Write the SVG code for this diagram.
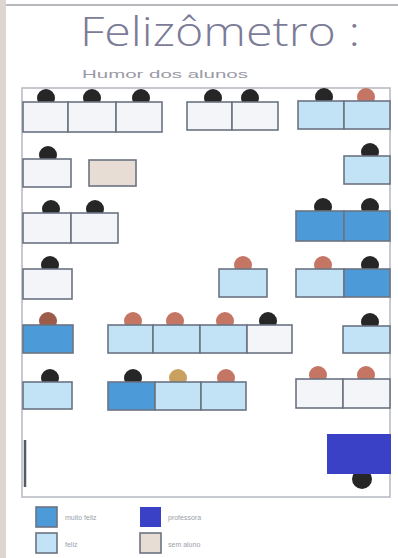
<svg xmlns="http://www.w3.org/2000/svg" width="398" height="558" viewBox="0 0 398 558">
<style>
.desk{stroke:#6b7382;stroke-width:1.6}
.w{fill:#f3f5f9}.l{fill:#c2e2f6}.m{fill:#4c9ad8}.b{fill:#e7ddd5}.t{fill:#3a41c6}
.hd{fill:#262626}.hs{fill:#c47564}.hb{fill:#9c5c4a}.hg{fill:#c9a060}
.lg{font-family:"Liberation Sans",Arial,sans-serif;font-size:7px;fill:#9aa0aa}
</style>
<rect width="398" height="558" fill="#ffffff"/>
<rect x="0" y="0" width="6" height="558" fill="#ddd5d0"/>
<rect x="6" y="4" width="392" height="2" fill="#b8b8bc"/>
<text x="80" y="46" font-family="'Open Sans','DejaVu Sans',sans-serif" font-weight="300" font-size="40" fill="#7c7c98" textLength="280" lengthAdjust="spacingAndGlyphs">Felizômetro :</text>
<text x="82" y="78" font-family="'Liberation Sans',Arial,sans-serif" font-size="11" fill="#9a9aa6" textLength="166" lengthAdjust="spacingAndGlyphs">Humor dos alunos</text>
<rect x="22" y="88" width="368" height="409" fill="none" stroke="#b4b8c0" stroke-width="1.5"/>
<line x1="25" y1="440" x2="25" y2="487" stroke="#555a62" stroke-width="2.5"/>
<g id="connectors"/>
<g id="d1"><circle class="hd" cx="46" cy="98" r="9"/><rect class="desk w" x="23" y="102" width="45" height="30"/></g>
<g id="d2"><circle class="hd" cx="92" cy="98" r="9"/><rect class="desk w" x="68" y="102" width="48" height="30"/></g>
<g id="d3"><circle class="hd" cx="141" cy="98" r="9"/><rect class="desk w" x="116" y="102" width="46" height="30"/></g>
<g id="d4"><circle class="hd" cx="213" cy="98" r="9"/><rect class="desk w" x="187" y="102" width="45" height="28"/></g>
<g id="d5"><circle class="hd" cx="250" cy="98" r="9"/><rect class="desk w" x="232" y="102" width="46" height="28"/></g>
<g id="d6"><circle class="hd" cx="324" cy="97" r="9"/><rect class="desk l" x="298" y="101" width="46" height="28"/></g>
<g id="d7"><circle class="hs" cx="366" cy="97" r="9"/><rect class="desk l" x="344" y="101" width="46" height="28"/></g>
<g id="d8"><circle class="hd" cx="48" cy="155" r="9"/><rect class="desk w" x="23" y="159" width="48" height="28"/></g>
<g id="d9"><rect class="desk b" x="89" y="160" width="47" height="26" stroke="#b8b0aa"/></g>
<g id="d10"><circle class="hd" cx="370" cy="152" r="9"/><rect class="desk l" x="344" y="156" width="46" height="28"/></g>
<g id="d11"><circle class="hd" cx="51" cy="209" r="9"/><rect class="desk w" x="23" y="213" width="48" height="30"/></g>
<g id="d12"><circle class="hd" cx="95" cy="209" r="9"/><rect class="desk w" x="71" y="213" width="47" height="30"/></g>
<g id="d13"><circle class="hd" cx="323" cy="207" r="9"/><rect class="desk m" x="296" y="211" width="48" height="30"/></g>
<g id="d14"><circle class="hd" cx="370" cy="207" r="9"/><rect class="desk m" x="344" y="211" width="46" height="30"/></g>
<g id="d15"><circle class="hd" cx="50" cy="265" r="9"/><rect class="desk w" x="23" y="269" width="49" height="30"/></g>
<g id="d16"><circle class="hs" cx="243" cy="265" r="9"/><rect class="desk l" x="219" y="269" width="48" height="28"/></g>
<g id="d17"><circle class="hs" cx="323" cy="265" r="9"/><rect class="desk l" x="296" y="269" width="48" height="28"/></g>
<g id="d18"><circle class="hd" cx="370" cy="265" r="9"/><rect class="desk m" x="344" y="269" width="46" height="28"/></g>
<g id="d19"><circle class="hb" cx="48" cy="321" r="9"/><rect class="desk m" x="23" y="325" width="50" height="28"/></g>
<g id="d20"><circle class="hs" cx="133" cy="321" r="9"/><rect class="desk l" x="108" y="325" width="45" height="28"/></g>
<g id="d21"><circle class="hs" cx="175" cy="321" r="9"/><rect class="desk l" x="153" y="325" width="47" height="28"/></g>
<g id="d22"><circle class="hs" cx="225" cy="321" r="9"/><rect class="desk l" x="200" y="325" width="47" height="28"/></g>
<g id="d23"><circle class="hd" cx="268" cy="321" r="9"/><rect class="desk w" x="247" y="325" width="45" height="28"/></g>
<g id="d24"><circle class="hd" cx="370" cy="322" r="9"/><rect class="desk l" x="343" y="326" width="47" height="27"/></g>
<g id="d25"><circle class="hd" cx="50" cy="378" r="9"/><rect class="desk l" x="23" y="382" width="49" height="27"/></g>
<g id="d26"><circle class="hd" cx="133" cy="378" r="9"/><rect class="desk m" x="108" y="382" width="47" height="28"/></g>
<g id="d27"><circle class="hg" cx="178" cy="378" r="9"/><rect class="desk l" x="155" y="382" width="46" height="28"/></g>
<g id="d28"><circle class="hs" cx="226" cy="378" r="9"/><rect class="desk l" x="201" y="382" width="45" height="28"/></g>
<g id="d29"><circle class="hs" cx="318" cy="375" r="9"/><rect class="desk w" x="296" y="379" width="47" height="29"/></g>
<g id="d30"><circle class="hs" cx="366" cy="375" r="9"/><rect class="desk w" x="343" y="379" width="47" height="29"/></g>
<g id="teacher"><circle class="hd" cx="362" cy="479" r="10"/><rect class="t" x="327" y="434" width="64" height="40"/></g>
<g id="legend">
<rect class="desk m" x="36" y="507" width="21" height="20"/><text class="lg" x="65" y="520">muito feliz</text>
<rect class="desk l" x="36" y="533" width="21" height="20"/><text class="lg" x="65" y="547">feliz</text>
<rect class="t" x="140" y="507" width="21" height="20"/><text class="lg" x="168" y="520">professora</text>
<rect class="desk b" x="140" y="533" width="21" height="20" stroke="#c8c0ba"/><text class="lg" x="168" y="547">sem aluno</text>
</g>
</svg>
